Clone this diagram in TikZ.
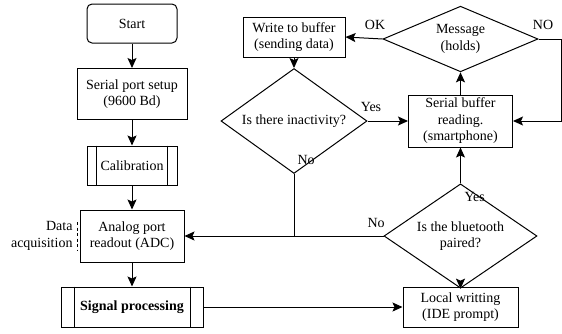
\documentclass[tikz,border=0pt]{standalone}
\usepackage{fontspec}
\setmainfont{Liberation Serif}
\usetikzlibrary{shapes.geometric,arrows.meta}
\begin{document}
\begin{tikzpicture}[x=1pt,y=-1pt,
  font=\fontsize{14}{16.5}\selectfont,
  every path/.style={line width=1pt},
  box/.style={draw, align=center, inner sep=0pt},
  dia/.style={draw, diamond, align=center, inner sep=-3pt},
  arr/.style={-{Stealth[length=10pt,width=9pt,inset=2pt]}},
  lbl/.style={inner sep=0pt}
]
\useasboundingbox (0,0) rectangle (562,333);
% left column
\node[box, rounded corners=5pt, minimum width=90pt, minimum height=39pt] (start) at (132,23.5) {Start};
\node[box, minimum width=110pt, minimum height=51pt] (setup) at (132,94) {Serial port setup\\(9600 Bd)};
\node[box, minimum width=90pt, minimum height=39pt] (cal) at (132,165.5) {Calibration};
\draw ([xshift=10pt]cal.north west) -- ([xshift=10pt]cal.south west);
\draw ([xshift=-10pt]cal.north east) -- ([xshift=-10pt]cal.south east);
\node[box, minimum width=104pt, minimum height=52pt] (adc) at (132,236) {Analog port\\readout (ADC)};
\node[box, minimum width=142pt, minimum height=40pt] (sig) at (132,307) {\textbf{Signal processing}};
\draw ([xshift=14pt]sig.north west) -- ([xshift=14pt]sig.south west);
\draw ([xshift=-13pt]sig.north east) -- ([xshift=-13pt]sig.south east);
\node[lbl, anchor=east, align=right] (daq) at (73,236) {Data\\acquisition};
\coordinate (dqt) at (77,222);
\coordinate (dqb) at (77,251);
\draw[dash pattern=on 3pt off 2.5pt] (dqt) -- (dqb);
% right part
\node[box, minimum width=115pt, minimum height=40pt] (local) at (460.5,307) {Local writting\\(IDE prompt)};
\node[dia, minimum width=153pt, minimum height=64pt] (bt) at (460.5,236) {Is the bluetooth\\paired?};
\node[box, minimum width=104pt, minimum height=52pt] (sbr) at (460.5,121) {Serial buffer\\reading.\\(smartphone)};
\node[dia, minimum width=155pt, minimum height=56pt] (msg) at (460.5,39) {Message\\(holds)};
\node[box, minimum width=102pt, minimum height=40pt] (wtb) at (294,37) {Write to buffer\\(sending data)};
\node[dia, minimum width=146pt, minimum height=65pt] (ina) at (294,121) {Is there inactivity?};
% connectors
\draw[arr] (start) -- (setup);
\draw[arr] (setup) -- (cal);
\draw[arr] (cal) -- (adc);
\draw[arr] (adc) -- (sig);
\draw[arr] (sig) -- (local);
\draw[arr] (local) -- (bt);
\draw[arr] (bt.west) -- (adc.east);
\coordinate (join) at (ina.south |- adc.east);
\draw (ina.south) -- (join);
\draw[arr] (bt.north) -- (sbr.south);
\draw[arr] (sbr) -- (msg);
\draw[arr] (msg.west) -- (wtb.east);
\draw[arr] (wtb) -- (ina);
\draw[arr] (ina.east) -- (sbr.west);
\coordinate (rt) at (561.5,39);
\draw[arr] (msg.east) -- (rt) |- (sbr.east);
% labels
\node[lbl, anchor=west] (lno1) at (367,223) {No};
\node[lbl, anchor=west] (lno2) at (297,160) {No};
\node[lbl, anchor=west] (lyes1) at (464,197) {Yes};
\node[lbl] (lyes2) at (371,107) {Yes};
\node[lbl] (lok) at (375,25) {OK};
\node[lbl] (lno3) at (543,25) {NO};
\end{tikzpicture}
\end{document}
